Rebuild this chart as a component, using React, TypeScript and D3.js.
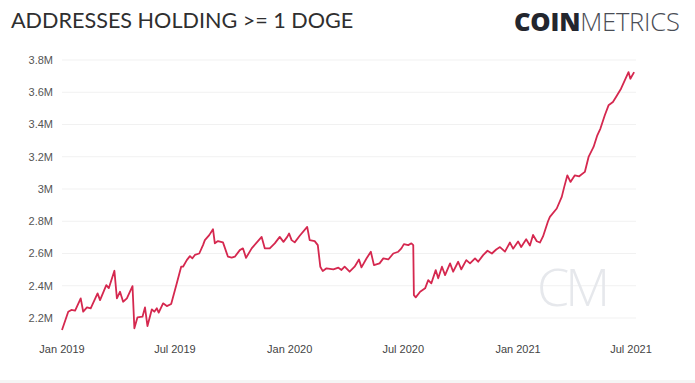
import React from "react";
import * as d3 from "d3";

const TITLE = "ADDRESSES HOLDING >= 1 DOGE";
const LOGO_BOLD = "COIN";
const LOGO_LIGHT = "METRICS";
const WATERMARK = "CM";

const yTicks = [2.2e6, 2.4e6, 2.6e6, 2.8e6, 3.0e6, 3.2e6, 3.4e6, 3.6e6, 3.8e6];
const xTickDates = ["2019-01-01", "2019-07-01", "2020-01-01", "2020-07-01", "2021-01-01", "2021-07-01"];

const dates = [
  "2019-01-01","2019-01-11","2019-01-16","2019-01-22","2019-01-31","2019-02-04","2019-02-10","2019-02-16","2019-02-27","2019-03-03",
  "2019-03-13","2019-03-17","2019-03-26","2019-03-30","2019-04-04","2019-04-09","2019-04-15","2019-04-24","2019-04-27","2019-05-02",
  "2019-05-10","2019-05-14","2019-05-18","2019-05-25","2019-05-29","2019-06-02","2019-06-05","2019-06-12","2019-06-18","2019-06-25",
  "2019-07-04","2019-07-11","2019-07-14","2019-07-20","2019-07-25","2019-07-29","2019-08-02","2019-08-09","2019-08-15","2019-08-18",
  "2019-08-25","2019-08-31","2019-09-03","2019-09-08","2019-09-16","2019-09-24","2019-09-30","2019-10-05","2019-10-13","2019-10-18",
  "2019-10-23","2019-11-01","2019-11-17","2019-11-22","2019-11-30","2019-12-08","2019-12-16","2019-12-22","2019-12-28","2019-12-31",
  "2020-01-04","2020-01-09","2020-01-17","2020-01-29","2020-02-02","2020-02-10","2020-02-15","2020-02-19","2020-02-23","2020-02-29",
  "2020-03-11","2020-03-19","2020-03-24","2020-03-29","2020-04-06","2020-04-14","2020-04-21","2020-04-25","2020-05-03","2020-05-10",
  "2020-05-15","2020-05-24","2020-05-30","2020-06-07","2020-06-15","2020-06-23","2020-06-28","2020-07-02","2020-07-09","2020-07-14",
  "2020-07-17","2020-07-18","2020-07-21","2020-07-28","2020-08-05","2020-08-10","2020-08-15","2020-08-22","2020-08-26","2020-09-01",
  "2020-09-06","2020-09-14","2020-09-19","2020-09-27","2020-10-02","2020-10-10","2020-10-16","2020-10-24","2020-10-29","2020-11-06",
  "2020-11-13","2020-11-20","2020-11-27","2020-12-03","2020-12-11","2020-12-19","2020-12-24","2021-01-01","2021-01-06","2021-01-14",
  "2021-01-20","2021-01-25","2021-01-31","2021-02-05","2021-02-10","2021-02-18","2021-02-21","2021-03-04","2021-03-12","2021-03-16",
  "2021-03-21","2021-03-26","2021-04-02","2021-04-09","2021-04-18","2021-04-24","2021-05-02","2021-05-08","2021-05-13","2021-05-20",
  "2021-05-26","2021-06-02","2021-06-07","2021-06-15","2021-06-21","2021-06-27","2021-06-30","2021-07-06"
];

const addresses = [
  2.126,2.239,2.250,2.246,2.322,2.239,2.266,2.260,2.353,2.311,
  2.404,2.385,2.493,2.322,2.363,2.301,2.322,2.398,2.136,2.204,
  2.208,2.266,2.150,2.254,2.239,2.260,2.233,2.291,2.274,2.287,
  2.415,2.518,2.518,2.559,2.584,2.570,2.591,2.600,2.652,2.683,
  2.714,2.751,2.663,2.677,2.669,2.580,2.574,2.580,2.621,2.632,
  2.573,2.632,2.703,2.632,2.632,2.663,2.703,2.672,2.703,2.724,
  2.683,2.669,2.710,2.765,2.683,2.677,2.652,2.518,2.491,2.508,
  2.502,2.512,2.498,2.518,2.487,2.518,2.563,2.514,2.569,2.611,
  2.528,2.539,2.570,2.563,2.600,2.611,2.632,2.658,2.652,2.663,
  2.652,2.342,2.328,2.363,2.384,2.435,2.415,2.497,2.446,2.518,
  2.466,2.539,2.487,2.549,2.502,2.559,2.539,2.570,2.549,2.590,
  2.617,2.600,2.625,2.640,2.612,2.668,2.630,2.675,2.640,2.688,
  2.650,2.715,2.676,2.668,2.706,2.800,2.827,2.879,2.951,3.013,
  3.085,3.044,3.085,3.079,3.106,3.199,3.261,3.333,3.375,3.457,
  3.519,3.539,3.570,3.622,3.674,3.725,3.684,3.725
].map((v) => v * 1e6);

const W = 695;
const H = 383;

export default function App() {
  const parse = d3.timeParse("%Y-%m-%d");
  const data = dates.map((d, i) => ({ date: parse(d) as Date, value: addresses[i] }));

  const x = d3
    .scaleTime()
    .domain([parse("2019-01-01") as Date, parse("2021-07-01") as Date])
    .range([62, 631]);
  const y = d3.scaleLinear().domain([2.2e6, 3.8e6]).range([318, 60]);

  const line = d3
    .line<{ date: Date; value: number }>()
    .x((d) => x(d.date))
    .y((d) => y(d.value));

  const fmtY = (v: number) => `${+(v / 1e6).toFixed(1)}M`;
  const fmtX = d3.timeFormat("%b %Y");

  return (
    <svg
      width={W}
      height={H}
      style={{ position: "absolute", left: 0, top: 0, background: "#ffffff" }}
    >
      <rect x={0} y={0} width={W} height={H} fill="#ffffff" />
      <rect x={0} y={380} width={W} height={3} fill="#f5f5f5" />
      <text
        x={11}
        y={28}
        fontFamily="Lato, 'Open Sans', sans-serif"
        fontSize={21.6}
        fill="#2f2f2f"
      >
        {TITLE}
      </text>
      <text x={514} y={31} fontFamily="'Open Sans', Lato, sans-serif" fontSize={25.5} letterSpacing={-0.2}>
        <tspan fontWeight={800} fill="#23262e">{LOGO_BOLD}</tspan>
        <tspan fontWeight={300} fill="#4a4d55">{LOGO_LIGHT}</tspan>
      </text>
      {yTicks.map((t) => (
        <g key={t}>
          <line x1={62} x2={636} y1={y(t)} y2={y(t)} stroke="#f1f1f1" strokeWidth={1} />
          <text
            x={53}
            y={y(t)}
            dy="0.35em"
            textAnchor="end"
            fontFamily="'Liberation Sans', Arial, sans-serif"
            fontSize={11}
            fill="#555555"
          >
            {fmtY(t)}
          </text>
        </g>
      ))}
      {xTickDates.map((d) => {
        const dt = parse(d) as Date;
        return (
          <text
            key={d}
            x={x(dt)}
            y={353}
            textAnchor="middle"
            fontFamily="'Liberation Sans', Arial, sans-serif"
            fontSize={11}
            fill="#444444"
          >
            {fmtX(dt)}
          </text>
        );
      })}
      <text
        x={537}
        y={306}
        fontFamily="'Open Sans', Lato, sans-serif"
        fontWeight={300}
        fontSize={52}
        fill="#e6e8ec"
        letterSpacing={-4}
      >
        {WATERMARK}
      </text>
      <path d={line(data) || ""} fill="none" stroke="#d5284f" strokeWidth={1.8} strokeLinejoin="round" />
    </svg>
  );
}
